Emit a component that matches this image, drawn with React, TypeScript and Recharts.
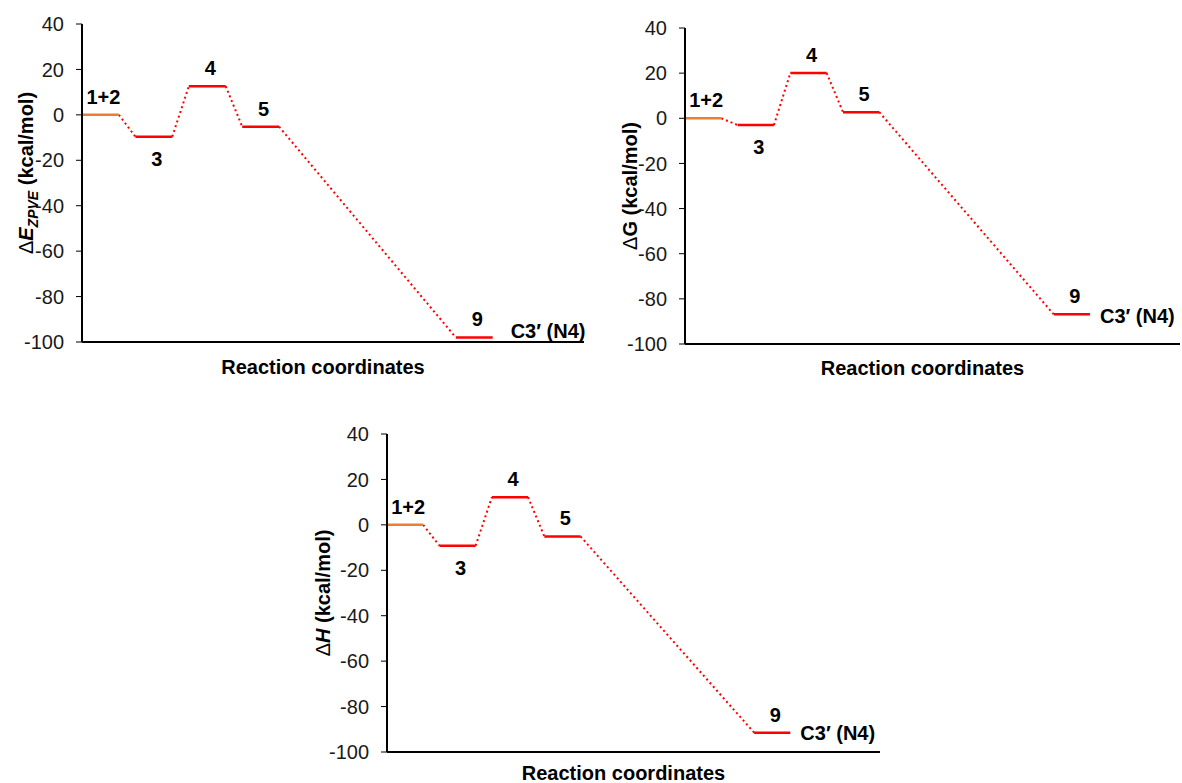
import React from "react";
import { ComposedChart, Line, XAxis, YAxis, LabelList } from "recharts";

// ---- data ----
const stateLabels = ["1+2", "3", "4", "5", "9"];
const stateSlots = [0, 1, 2, 3, 7];
const labelBelow = [false, true, false, false, false];
const eZpveValues = [0, -9.6, 12.6, -5.2, -98];
const gValues = [0, -3.0, 20.1, 2.7, -86.8];
const hValues = [0, -9.2, 12.2, -5.1, -91.5];
const yTicks = [-100, -80, -60, -40, -20, 0, 20, 40];
const productLabel = "C3\u2032 (N4)";
const xTitle = "Reaction coordinates";

const FONT = "'Liberation Sans', Arial, Helvetica, sans-serif";
const X_MAX = 9.4;
const LEVEL_W = 0.69;
const RED = "#FF0000";
const ORANGE = "#ED7D31";

type Props = {
  values: number[];
  left: number;
  top: number;
  right: number;
  bottom: number;
  yTitle: React.ReactNode;
  yTitleGap: number;
  yTitleShift: number;
  xTitleDy: number;
  productDx: number;
  productDy: number;
  rightPad: number;
};

function EnergyChart({
  values, left, top, right, bottom, yTitle, yTitleGap, yTitleShift, xTitleDy, productDx, productDy, rightPad,
}: Props) {
  const padL = 80;
  const padT = 24;
  const xAxisH = 30;
  const padB = 15;
  const width = right - left + padL + rightPad;
  const height = bottom - top + padT + padB + xAxisH;
  const pxPerUnit = (right - left) / X_MAX;

  const levels = values.map((v, i) => ({
    key: "lvl" + i,
    color: i === 0 ? ORANGE : RED,
    data: [
      { x: stateSlots[i], y: v },
      { x: stateSlots[i] + LEVEL_W, y: v },
    ],
  }));
  const connectors = values.slice(0, -1).map((v, i) => ({
    key: "con" + i,
    data: [
      { x: stateSlots[i] + LEVEL_W, y: v },
      { x: stateSlots[i + 1], y: values[i + 1] },
    ],
  }));
  const labelPoints = values.map((v, i) => ({ x: stateSlots[i] + LEVEL_W / 2, y: v }));

  const renderLabel = (p: any) => {
    const i = p.index;
    const x = p.x + 3;
    const y = p.y;
    const els = [
      <text
        key="l"
        x={x}
        y={labelBelow[i] ? y + 29 : y - 11}
        textAnchor="middle"
        fontFamily={FONT}
        fontWeight="bold"
        fontSize={20}
        fill="#000"
      >
        {stateLabels[i]}
      </text>,
    ];
    if (i === values.length - 1) {
      els.push(
        <text
          key="p"
          x={p.x + (LEVEL_W / 2) * pxPerUnit + productDx}
          y={y + productDy}
          textAnchor="start"
          fontFamily={FONT}
          fontWeight="bold"
          fontSize={20}
          fill="#000"
        >
          {productLabel}
        </text>
      );
    }
    return <g>{els}</g>;
  };

  const renderYTitle = (p: any) => {
    const vb = p.viewBox || {};
    const axisX = vb.x + vb.width;
    const cx = axisX - yTitleGap;
    const cy = vb.y + vb.height / 2 + yTitleShift;
    return (
      <text
        x={cx}
        y={cy}
        transform={`rotate(-90, ${cx}, ${cy})`}
        textAnchor="middle"
        fontFamily={FONT}
        fontWeight="bold"
        fontSize={20}
        fill="#000"
      >
        {yTitle}
      </text>
    );
  };

  const renderXTitle = (p: any) => {
    const vb = p.viewBox || {};
    return (
      <text
        x={vb.x + vb.width / 2 - 10}
        y={vb.y + xTitleDy}
        textAnchor="middle"
        fontFamily={FONT}
        fontWeight="bold"
        fontSize={20}
        fill="#000"
      >
        {xTitle}
      </text>
    );
  };

  return (
    <div style={{ position: "absolute", left: left - padL, top: top - padT }}>
      <ComposedChart
        width={width}
        height={height}
        margin={{ top: padT, left: padL - 60, right: rightPad, bottom: padB }}
        style={{ overflow: "visible" }}
      >
        <XAxis
          type="number"
          dataKey="x"
          domain={[0, X_MAX]}
          allowDataOverflow
          ticks={[]}
          tick={false}
          tickLine={false}
          height={xAxisH}
          axisLine={{ stroke: "#000", strokeWidth: 2 }}
          label={{ content: renderXTitle }}
        />
        <YAxis
          type="number"
          dataKey="y"
          domain={[-100, 40]}
          ticks={yTicks}
          interval={0}
          width={60}
          tickSize={6}
          tickMargin={12}
          axisLine={{ stroke: "#000", strokeWidth: 2 }}
          tickLine={{ stroke: "#000", strokeWidth: 1 }}
          tick={{ fontFamily: FONT, fontSize: 20, fill: "#1a1a1a" }}
          label={{ content: renderYTitle }}
        />
        {connectors.map((c) => (
          <Line
            key={c.key}
            data={c.data}
            dataKey="y"
            type="linear"
            stroke={RED}
            strokeWidth={2}
            strokeDasharray="2 3"
            dot={false}
            activeDot={false}
            isAnimationActive={false}
          />
        ))}
        {levels.map((l) => (
          <Line
            key={l.key}
            data={l.data}
            dataKey="y"
            type="linear"
            stroke={l.color}
            strokeWidth={2.5}
            dot={false}
            activeDot={false}
            isAnimationActive={false}
          />
        ))}
        <Line
          data={labelPoints}
          dataKey="y"
          stroke="none"
          dot={false}
          activeDot={false}
          isAnimationActive={false}
        >
          <LabelList dataKey="y" content={renderLabel} />
        </Line>
      </ComposedChart>
    </div>
  );
}

export default function App() {
  return (
    <div
      style={{
        position: "absolute",
        left: 0,
        top: 0,
        width: 1182,
        height: 783,
        overflow: "hidden",
        background: "#fff",
      }}
    >
      <EnergyChart
        values={eZpveValues}
        left={82}
        right={584}
        top={24}
        bottom={342}
        yTitleGap={49}
        yTitleShift={-10}
        xTitleDy={32}
        productDx={18}
        productDy={1}
        rightPad={20}
        yTitle={
          <>
            <tspan fontWeight="normal">{"\u0394"}</tspan>
            <tspan fontStyle="italic">E</tspan>
            <tspan fontSize={14} dy={5} fontStyle="italic">ZPVE</tspan>
            <tspan dy={-5}>{" (kcal/mol)"}</tspan>
          </>
        }
      />
      <EnergyChart
        values={gValues}
        left={685}
        right={1180}
        top={28}
        bottom={344}
        yTitleGap={48}
        yTitleShift={0}
        xTitleDy={31}
        productDx={10}
        productDy={9}
        rightPad={2}
        yTitle={
          <>
            <tspan fontWeight="normal">{"\u0394"}</tspan>
            <tspan>{"G (kcal/mol)"}</tspan>
          </>
        }
      />
      <EnergyChart
        values={hValues}
        left={387}
        right={880}
        top={434}
        bottom={752}
        yTitleGap={57}
        yTitleShift={0}
        xTitleDy={28}
        productDx={10}
        productDy={7}
        rightPad={20}
        yTitle={
          <>
            <tspan fontWeight="normal">{"\u0394"}</tspan>
            <tspan fontStyle="italic">H</tspan>
            <tspan>{" (kcal/mol)"}</tspan>
          </>
        }
      />
    </div>
  );
}
